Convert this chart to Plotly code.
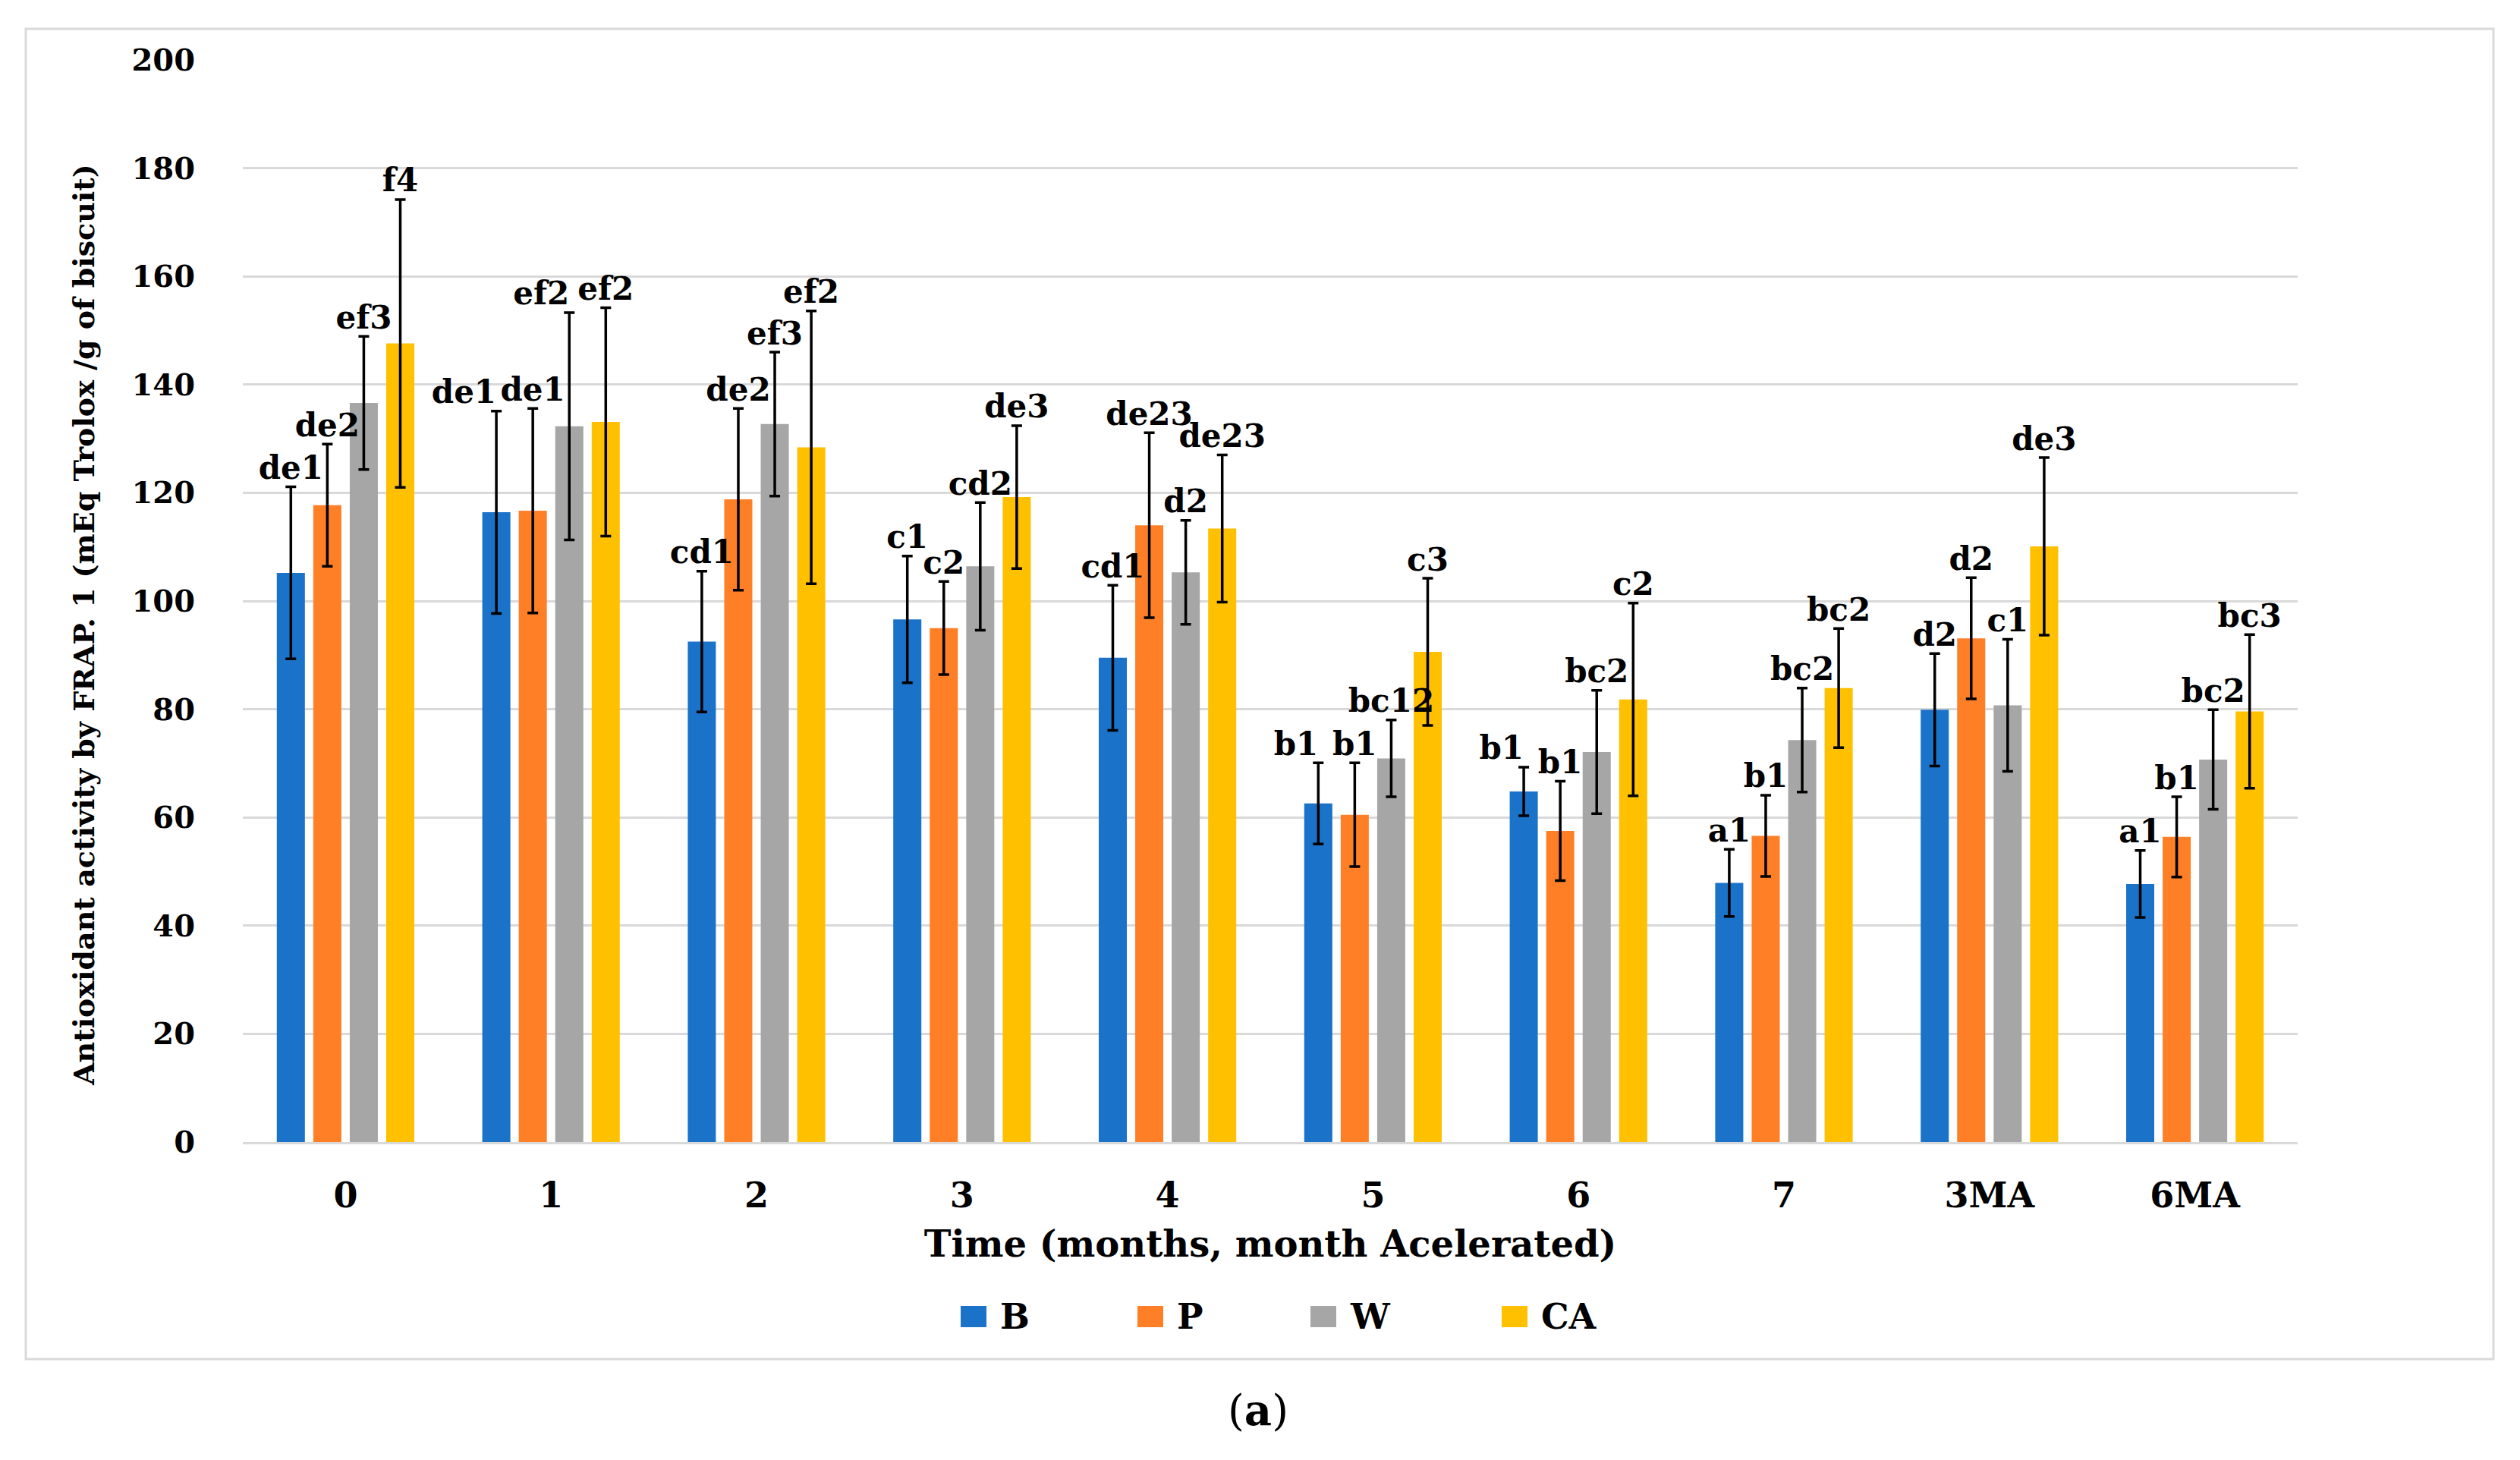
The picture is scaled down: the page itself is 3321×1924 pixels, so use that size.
import plotly.graph_objects as go

# time points (months, months accelerated)
categories = ["0", "1", "2", "3", "4", "5", "6", "7", "3MA", "6MA"]
series_names = ["B", "P", "W", "CA"]
colors = ["#1A73C9", "#FF7F27", "#A6A6A6", "#FFC000"]

B = [105.2, 116.4, 92.5, 96.6, 89.5, 62.6, 64.8, 47.9, 79.9, 47.7]
B_err = [15.9, 18.7, 13.0, 11.7, 13.4, 7.5, 4.5, 6.2, 10.4, 6.2]
P = [117.7, 116.7, 118.8, 95.0, 114.0, 60.5, 57.5, 56.6, 93.1, 56.4]
P_err = [11.3, 18.9, 16.8, 8.6, 17.1, 9.6, 9.2, 7.5, 11.2, 7.4]
W = [136.6, 132.3, 132.7, 106.4, 105.3, 70.9, 72.1, 74.3, 80.7, 70.7]
W_err = [12.3, 21.0, 13.3, 11.8, 9.6, 7.1, 11.4, 9.6, 12.2, 9.2]
CA = [147.6, 133.1, 128.4, 119.2, 113.4, 90.6, 81.8, 83.9, 110.1, 79.6]
CA_err = [26.6, 21.1, 25.2, 13.2, 13.6, 13.6, 17.8, 11.0, 16.4, 14.2]

B_lab = ["de1", "de1", "cd1", "c1", "cd1", "b1", "b1", "a1", "d2", "a1"]
P_lab = ["de2", "de1", "de2", "c2", "de23", "b1", "b1", "b1", "d2", "b1"]
W_lab = ["ef3", "ef2", "ef3", "cd2", "d2", "bc12", "bc2", "bc2", "c1", "bc2"]
CA_lab = ["f4", "ef2", "ef2", "de3", "de23", "c3", "c2", "bc2", "de3", "bc3"]

values = [B, P, W, CA]
errors = [B_err, P_err, W_err, CA_err]
letters = [B_lab, P_lab, W_lab, CA_lab]

FONT = "DejaVu Serif"
OFF = 8  # page body margin
W_PX, H_PX = 3321 - 2 * OFF, 1924 - 2 * OFF
L, T = 320 - OFF, 79 - OFF
R = W_PX - (3028 - OFF)
Bm = H_PX - (1505 - OFF)
plot_w = W_PX - L - R
plot_h = H_PX - T - Bm

fig = go.Figure()

for i, name in enumerate(series_names):
    fig.add_trace(go.Bar(
        x=categories, y=values[i], name=name,
        marker=dict(color=colors[i], line=dict(width=0)),
        offsetgroup=str(i),
        error_y=dict(type="data", array=errors[i], visible=True,
                     color="black", thickness=3.5, width=7),
        showlegend=False))

# significance letters above the error bars; a few are pushed left
# (as in the original) so neighbours don't collide
left_shift = {0: {1, 5, 6}, 2: {1}}
for i, name in enumerate(series_names):
    tops = [v + e for v, e in zip(values[i], errors[i])]
    pos = ["top left" if k in left_shift.get(i, set()) else "top center"
           for k in range(len(categories))]
    fig.add_trace(go.Scatter(
        x=categories, y=tops, mode="text", text=letters[i],
        textposition=pos, offsetgroup=str(i),
        textfont=dict(family=FONT, size=42, color="black", weight="bold"),
        cliponaxis=False, showlegend=False, hoverinfo="skip"))


# helpers: reference-image pixels -> paper coordinates
def px_x(px):
    return (px - OFF - L) / plot_w


def px_y(py):
    return (H_PX - Bm - (py - OFF)) / plot_h


# outer chart border
fig.add_shape(type="rect", xref="paper", yref="paper",
              x0=px_x(34), x1=px_x(3286), y0=px_y(1791), y1=px_y(38),
              line=dict(color="#D9D9D9", width=3), layer="below")

# legend drawn by hand (bigger swatches than plotly allows)
legend_x = [1266, 1499, 1727, 1979]
for i, name in enumerate(series_names):
    fig.add_shape(type="rect", xref="paper", yref="paper",
                  x0=px_x(legend_x[i]), x1=px_x(legend_x[i] + 34),
                  y0=px_y(1749), y1=px_y(1721),
                  fillcolor=colors[i], line=dict(width=0))
    fig.add_annotation(xref="paper", yref="paper",
                       x=px_x(legend_x[i] + 50), y=px_y(1735),
                       text=name, showarrow=False, xanchor="left",
                       yanchor="middle",
                       font=dict(family=FONT, size=46, color="black",
                                 weight="bold"))

# y axis title (sits a bit below the plot centre in the original)
fig.add_annotation(xref="paper", yref="paper", x=px_x(110), y=px_y(824),
                   text="Antioxidant activity by FRAP. 1 (mEq Trolox /g of biscuit)",
                   textangle=-90, showarrow=False, xanchor="center",
                   yanchor="middle",
                   font=dict(family=FONT, size=38, color="black",
                             weight="bold"))

fig.add_annotation(xref="paper", yref="paper", x=px_x(1658), y=px_y(1858),
                   text="(<b>a</b>)", showarrow=False, xanchor="center",
                   yanchor="middle",
                   font=dict(family=FONT, size=56, color="black"))

fig.update_layout(
    width=W_PX, height=H_PX,
    margin=dict(l=L, r=R, t=T, b=Bm),
    paper_bgcolor="white", plot_bgcolor="white",
    barmode="group", bargap=0.29, bargroupgap=0.23,
    scattermode="group", scattergap=0.29,
    font=dict(family=FONT, color="black"),
    xaxis=dict(
        showgrid=False, showline=True, linecolor="#D9D9D9", linewidth=3,
        ticks="", ticklabelstandoff=28,
        tickfont=dict(family=FONT, size=46, weight="bold"),
        title=dict(text="Time (months, month Acelerated)", standoff=22,
                   font=dict(family=FONT, size=48, weight="bold"))),
    yaxis=dict(
        range=[0, 200], dtick=20, showgrid=True, gridcolor="#D9D9D9",
        gridwidth=3, zeroline=False, showline=False, ticks="",
        ticklabelstandoff=62,
        tickfont=dict(family=FONT, size=40, weight="bold")),
)

fig.write_html("out.html")
